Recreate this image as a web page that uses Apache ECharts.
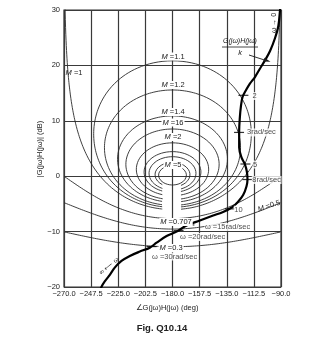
<!DOCTYPE html>
<html><head><meta charset="utf-8">
<script src="https://cdn.jsdelivr.net/npm/echarts@6/dist/echarts.min.js"></script>
<style>html,body{margin:0;padding:0;background:#fff}#c{width:330px;height:341px}</style>
</head><body><div id="c"></div>
<script>
// ---- data ----
const phaseMin = -270, phaseMax = -90, phaseStep = 22.5;
const dbMin = -20, dbMax = 30, dbStep = 10;
// closed M-contours (M > 1) and open ones (M <= 1)
const mClosed = [1.1, 1.2, 1.4, 1.6, 2, 2.5, 3, 4, 5];
const mOpen = [1, 0.707, 0.5, 0.3];
// open-loop locus G(jw)H(jw)/k (phase deg, magnitude dB)
const curvePhase = [-90.4, -90.8, -92.2, -95, -99.1, -103.3, -107.5, -111.6, -115.8, -119.1, -121.9, -123.3, -124.1, -124.7, -124.7, -122.7, -120, -118.3, -117.8, -118.6, -121.4, -125.6, -130.5, -138.5, -146.3, -157.3, -168.3, -176.6, -184.9, -193.2, -198.8, -207.1, -215.4, -222.3, -227.9, -232, -236.2, -239, -239.8];
const curveDb    = [31, 30, 27.1, 24.9, 22.6, 20.9, 19.4, 17.9, 16.7, 15.5, 14.3, 12.5, 10.7, 8.2, 5.2, 3.35, 2.2, 0.8, -0.6, -1.8, -3.4, -4.6, -5.6, -6.5, -7.1, -8.0, -8.9, -10.0, -10.8, -12.0, -12.9, -13.6, -14.4, -15.3, -16.5, -17.8, -19.0, -20, -20.5];
// frequency marks on the locus
const freqText  = ['2', '3rad/sec', '5', '8rad/sec', '10', 'ω =15rad/sec', 'ω =20rad/sec', 'ω =30rad/sec'];
const freqPhase = [-121.2, -124.8, -119.5, -117.9, -132.5, -166, -175, -197.4];
const freqDb    = [14.6, 7.9, 2.2, -0.6, -5.9, -8.8, -9.8, -12.7];
const mLabelText = ['1.1', '1.2', '1.4', '16', '2', '5', '0.707', '0.3', '0.5', '1'];

// ---- layout / style (not data) ----
const labelOffsets = [[13.7, 1.3], [12.5, 0.6], [12, 1.1], [9.4, 1.1], [9, 1.4], [20, 2.6], [6, 7.1], [5, 10.6]];
const mLabelPos = [[173, 56.5], [173, 85], [173, 112], [173, 122.5], [173, 137], [173, 165], [176, 222], [171, 248], [269, 206], [74, 73]];
const FONT = 'Liberation Sans, Arial, sans-serif';
const INK = '#1a1a1a';

// ---- Nichols grid contours (locus of |T| = M) ----
function closedContour(M, gap) {
  const out = [];
  const N = 900;
  for (let k = 0; k <= N; k++) {
    const psi = 2 * Math.PI * k / N;
    const tr = M * Math.cos(psi), ti = M * Math.sin(psi);
    const d = Math.hypot(1 - tr, ti);
    let ph = Math.atan2(ti, tr - M * M) * 180 / Math.PI;
    if (ph > 0) ph -= 360;
    const db = 20 * Math.log10(M / d);
    if (gap && db < 0 && ph > -188 && ph < -173) { out.push([null, null]); continue; }
    out.push([ph, db]);
  }
  return out;
}
function openContour(M) {
  const out = [];
  for (let ph = phaseMin + 0.1; ph <= phaseMax - 0.1 + 1e-9; ph += 0.2) {
    const c = Math.cos(ph * Math.PI / 180);
    let g;
    if (M === 1) g = -1 / (2 * c);
    else { const m2 = M * M; g = (m2 * c + Math.sqrt(m2 * m2 * c * c + m2 * (1 - m2))) / (1 - m2); }
    const db = 20 * Math.log10(g);
    if (M === 1 && db < 0 && ph > -188 && ph < -173) { out.push([null, null]); continue; }
    out.push([ph, db]);
  }
  return out;
}

const series = [];
mClosed.forEach(M => series.push({
  type: 'line', data: closedContour(M, M < 5), symbol: 'none', silent: true, connectNulls: false,
  lineStyle: { color: '#2a2a2a', width: 0.9 }, z: 2
}));
mOpen.forEach(M => series.push({
  type: 'line', data: openContour(M), symbol: 'none', silent: true, connectNulls: false,
  lineStyle: { color: '#2a2a2a', width: 0.9 }, z: 2
}));
series.push({
  type: 'line', data: curvePhase.map((p, i) => [p, curveDb[i]]), symbol: 'none', smooth: 0.35,
  lineStyle: { color: '#000', width: 2.2 }, z: 5
});
series.push({
  type: 'scatter', symbol: 'rect', symbolSize: [10, 1.2], z: 6,
  itemStyle: { color: '#000' },
  data: freqPhase.map((p, i) => ({
    value: [p, freqDb[i]],
    label: { show: true, formatter: freqText[i], position: labelOffsets[i], align: 'left', verticalAlign: 'middle',
      fontFamily: FONT, fontSize: 7.5, color: INK, backgroundColor: '#fff', padding: [0, 0.5] }
  }))
});

const chart = echarts.init(document.getElementById('c'), null, { renderer: 'canvas' });
const minus = v => (v < 0 ? '\u2212' : '') + Math.abs(v);
const rich = { i: { fontStyle: 'italic', fontFamily: FONT, fontSize: 7.5, fill: INK } };
const graphic = mLabelText.map((t, i) => ({
  type: 'text', x: mLabelPos[i][0], y: mLabelPos[i][1], z: 20,
  rotation: i === 8 ? 0.32 : 0,
  style: { text: '{i|M} =' + t, rich, fontFamily: FONT, fontSize: 7.5, fill: INK,
    align: 'center', verticalAlign: 'middle',
    backgroundColor: i === 9 || i === 8 ? null : '#fff', padding: [0, 1] }
}));
graphic.push(
  { type: 'text', x: 240, y: 41.5, z: 20, style: { text: 'G(jω)H(jω)', fontFamily: FONT, fontSize: 7, fontStyle: 'italic', fill: INK, align: 'center', verticalAlign: 'middle' } },
  { type: 'line', z: 20, shape: { x1: 222, y1: 47, x2: 258, y2: 47 }, style: { stroke: INK, lineWidth: 0.8 } },
  { type: 'text', x: 240, y: 52.5, z: 20, style: { text: 'k', fontFamily: FONT, fontSize: 7.5, fontStyle: 'italic', fill: INK, align: 'center', verticalAlign: 'middle' } },
  { type: 'line', z: 20, shape: { x1: 249, y1: 55, x2: 266, y2: 60.5 }, style: { stroke: INK, lineWidth: 0.9 } },
  { type: 'polygon', z: 20, shape: { points: [[270.5, 61.8], [264.5, 57.8], [263.3, 61.5]] }, style: { fill: INK } },
  { type: 'text', x: 274, y: 23, z: 20, rotation: Math.PI / 2, style: { text: 'ω → 0', fontFamily: FONT, fontSize: 7, fill: INK, align: 'center', verticalAlign: 'middle' } },
  { type: 'text', x: 109, y: 266, z: 20, rotation: 0.7, style: { text: '∞ ⟵ ω', fontFamily: FONT, fontSize: 6.5, fill: INK, align: 'center', verticalAlign: 'middle' } },
  { type: 'text', x: 167, y: 308, z: 20, style: { text: '∠G(jω)H(jω) (deg)', fontFamily: FONT, fontSize: 7.5, fill: INK, align: 'center', verticalAlign: 'middle' } },
  { type: 'text', x: 162, y: 328, z: 20, style: { text: 'Fig. Q10.14', fontFamily: FONT, fontSize: 9.5, fontWeight: 'bold', fill: '#222', align: 'center', verticalAlign: 'middle' } },
  { type: 'text', x: 40, y: 149, z: 20, rotation: Math.PI / 2, style: { text: '|G(jω)H(jω)| (dB)', fontFamily: FONT, fontSize: 7.5, fill: INK, align: 'center', verticalAlign: 'middle' } }
);

chart.setOption({
  animation: false,
  backgroundColor: '#fff',
  grid: { left: 64, right: 49, top: 10, bottom: 54, show: true, borderColor: '#333', borderWidth: 1.2 },
  xAxis: {
    type: 'value', min: phaseMin, max: phaseMax, interval: phaseStep,
    axisLine: { show: false }, axisTick: { show: false },
    axisLabel: { formatter: v => (v < 0 ? '\u2212' : '') + Math.abs(v).toFixed(1), fontFamily: FONT, fontSize: 7.5, color: INK, margin: 3 },
    splitLine: { show: true, lineStyle: { color: '#3a3a3a', width: 1.2 } }
  },
  yAxis: {
    type: 'value', min: dbMin, max: dbMax, interval: dbStep,
    axisLine: { show: false }, axisTick: { show: false },
    axisLabel: { formatter: minus, fontFamily: FONT, fontSize: 7.5, color: INK, margin: 4 },
    splitLine: { show: true, lineStyle: { color: '#3a3a3a', width: 1.2 } }
  },
  graphic,
  series
});
</script></body></html>
